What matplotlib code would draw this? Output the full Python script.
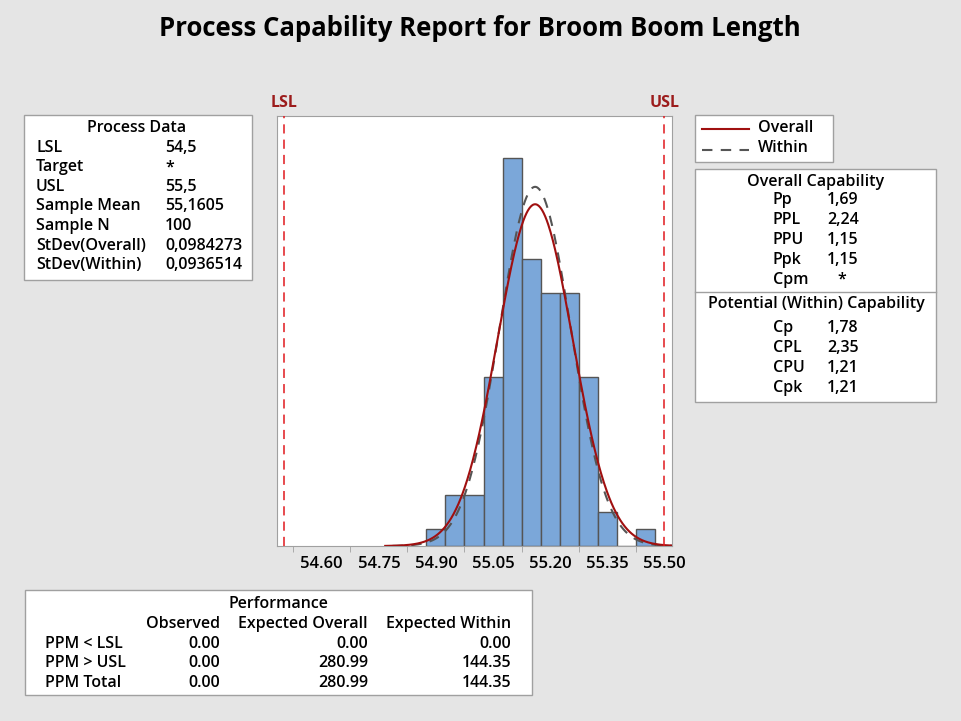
import numpy as np
import matplotlib.pyplot as plt
from matplotlib.patches import Rectangle
from matplotlib.lines import Line2D

# histogram: bin midpoints and counts
bin_mids = [54.90, 54.95, 55.00, 55.05, 55.10, 55.15, 55.20, 55.25, 55.30, 55.35, 55.40, 55.45]
counts = [1, 3, 3, 10, 23, 17, 15, 15, 10, 2, 0, 1]
bin_width = 0.05

lsl = 54.5
usl = 55.5
mean = 55.1605
n = 100
sd_overall = 0.0984273
sd_within = 0.0936514

tick_vals = [54.60, 54.75, 54.90, 55.05, 55.20, 55.35, 55.50]

process_labels = ["LSL", "Target", "USL", "Sample Mean", "Sample N", "StDev(Overall)", "StDev(Within)"]
process_values = ["54,5", "*", "55,5", "55,1605", "100", "0,0984273", "0,0936514"]

overall_labels = ["Pp", "PPL", "PPU", "Ppk", "Cpm"]
overall_values = ["1,69", "2,24", "1,15", "1,15", "*"]
within_labels = ["Cp", "CPL", "CPU", "Cpk"]
within_values = ["1,78", "2,35", "1,21", "1,21"]

perf_cols = ["Observed", "Expected Overall", "Expected Within"]
perf_rows = ["PPM < LSL", "PPM > USL", "PPM Total"]
perf_values = [["0.00", "0.00", "0.00"],
               ["0.00", "280.99", "144.35"],
               ["0.00", "280.99", "144.35"]]

plt.rcParams['font.family'] = ['Open Sans', 'DejaVu Sans']

W, H = 961, 721
BG = "#E5E5E5"
BOX = "#A0A0A0"
FS = 11.5

fig = plt.figure(figsize=(W / 100, H / 100), dpi=100, facecolor=BG)


def fx(x):
    return x / W


def fy(y):
    return 1 - y / H


def txt(x, y, s, ha="left", **kw):
    kw.setdefault("fontsize", FS)
    kw.setdefault("fontweight", "semibold")
    fig.text(fx(x), fy(y + 1.5), s, ha=ha, va="center", **kw)


def box(x0, y0, x1, y1):
    fig.patches.append(Rectangle((fx(x0), fy(y1)), fx(x1 - x0), (y1 - y0) / H,
                                 transform=fig.transFigure, facecolor="white",
                                 edgecolor=BOX, linewidth=1, zorder=0))


# title
txt(480, 27, "Process Capability Report for Broom Boom Length", ha="center",
    fontsize=18.5, fontweight="bold")

# main histogram
ax = fig.add_axes([fx(277), fy(546), fx(672 - 277), (546 - 116) / H])
ax.bar(bin_mids, counts, width=bin_width, color="#7BA7D9", edgecolor="#555555",
       linewidth=1, zorder=2)

xs = np.linspace(mean - 4 * sd_overall, mean + 4 * sd_overall, 400)
scale = n * bin_width
ax.plot(xs, scale / (sd_overall * np.sqrt(2 * np.pi)) * np.exp(-0.5 * ((xs - mean) / sd_overall) ** 2),
        color="#A01010", linewidth=1.5, zorder=4)
xw = np.linspace(mean - 4 * sd_within, mean + 4 * sd_within, 400)
ax.plot(xw, scale / (sd_within * np.sqrt(2 * np.pi)) * np.exp(-0.5 * ((xw - mean) / sd_within) ** 2),
        color="#555555", linewidth=1.5, linestyle=(0, (5, 4)), zorder=3)

ax.axvline(lsl, color="#E0191E", linestyle=(0, (6, 4)), linewidth=1.1, zorder=5)
ax.axvline(usl, color="#E0191E", linestyle=(0, (6, 4)), linewidth=1.1, zorder=5)

ax.set_xlim(54.4826, 55.520)
ax.set_ylim(0, 25.5)
ax.set_yticks([])
ax.set_xticks(tick_vals)
ax.set_xticklabels([f"{v:.2f}" for v in tick_vals], fontsize=12, fontweight="semibold")
ax.tick_params(axis="x", which="major", length=0, pad=7)
ax.set_xticks([54.525 + 0.15 * k for k in range(7)], minor=True)
ax.tick_params(axis="x", which="minor", length=4, color=BOX, direction="out")
for sp in ax.spines.values():
    sp.set_color(BOX)
ax.set_facecolor("white")

ax.text(lsl, 1.012, "LSL", transform=ax.get_xaxis_transform(), ha="center", va="bottom",
        color="#9C1C1C", fontsize=11.5, fontweight="bold")
ax.text(usl, 1.012, "USL", transform=ax.get_xaxis_transform(), ha="center", va="bottom",
        color="#9C1C1C", fontsize=11.5, fontweight="bold")

# process data table
box(24, 115, 252, 280)
txt(137, 126, "Process Data", ha="center")
for i, (lab, val) in enumerate(zip(process_labels, process_values)):
    y = 146 + i * 19.6
    txt(36, y, lab)
    txt(165, y, val)

# legend
box(695, 115, 833, 162)
fig.lines.append(Line2D([fx(702), fx(749)], [fy(129), fy(129)], transform=fig.transFigure,
                        color="#A01010", linewidth=1.5))
fig.lines.append(Line2D([fx(702), fx(749)], [fy(150), fy(150)], transform=fig.transFigure,
                        color="#555555", linewidth=1.5, linestyle=(0, (5, 4))))
txt(758, 126, "Overall")
txt(758, 146, "Within")

# capability table
box(695, 169, 936, 402)
fig.lines.append(Line2D([fx(695), fx(936)], [fy(292), fy(292)], transform=fig.transFigure,
                        color=BOX, linewidth=1))
txt(816, 180, "Overall Capability", ha="center")
for i, (lab, val) in enumerate(zip(overall_labels, overall_values)):
    y = 199 + i * 19.8
    txt(773, y, lab)
    if val == "*":
        txt(842, y, val, ha="center")
    else:
        txt(827, y, val)
txt(816, 303, "Potential (Within) Capability", ha="center")
for i, (lab, val) in enumerate(zip(within_labels, within_values)):
    y = 327 + i * 19.8
    txt(773, y, lab)
    txt(827, y, val)

# performance table
box(25, 590, 532, 695)
txt(278, 602, "Performance", ha="center")
col_right = [220, 368, 511]
for cx, c in zip(col_right, perf_cols):
    txt(cx, 622, c, ha="right")
for i, (lab, row) in enumerate(zip(perf_rows, perf_values)):
    y = 642 + i * 19.6
    txt(45, y, lab)
    for cx, v in zip(col_right, row):
        txt(cx, y, v, ha="right")

fig.savefig("out.png", dpi=100, facecolor=BG)
